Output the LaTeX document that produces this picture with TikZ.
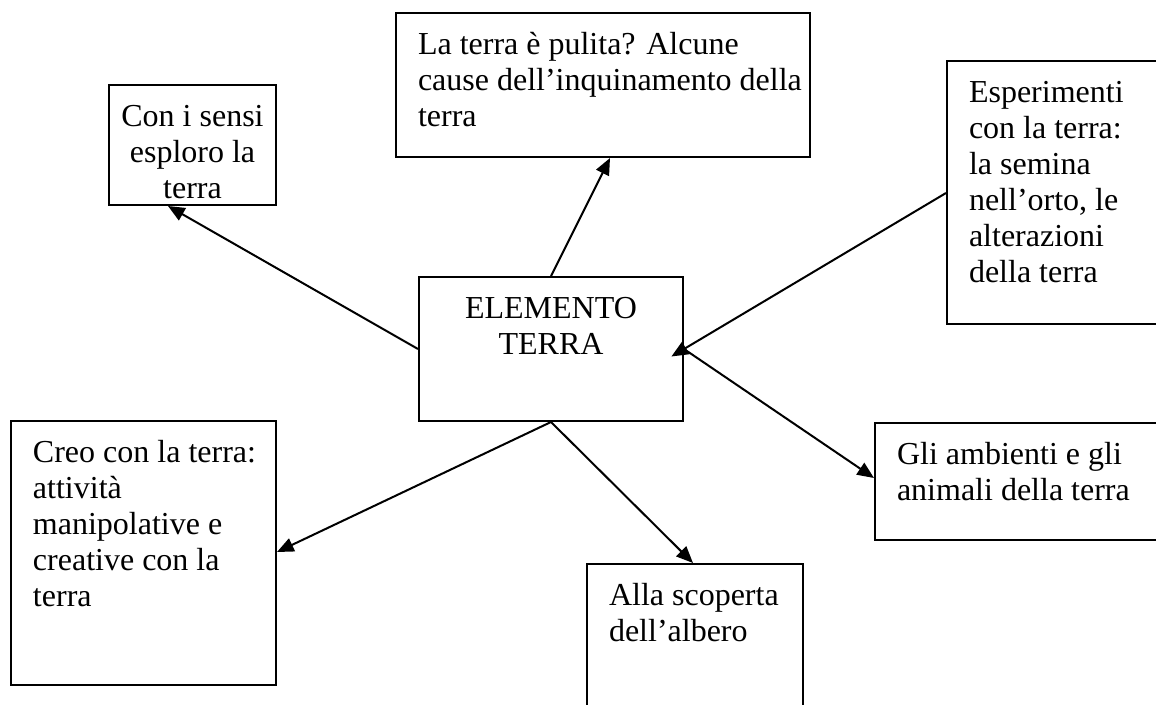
\documentclass[tikz,border=0pt]{standalone}
\usepackage{fontspec}
\setmainfont{Liberation Serif}
\usepackage{tikz}
\usetikzlibrary{arrows.meta,calc}

\newlength{\px}
\setlength{\px}{0.75pt}
% box text: width, height, alignment, text
\newcommand{\boxtext}[4]{%
\begin{minipage}[t][#2\px][t]{#1\px}#3\rule{0pt}{41\px}#4\end{minipage}}
\newcommand{\lft}{\raggedright\leftskip=22\px}
\newcommand{\ctr}{\centering}

\begin{document}
\begin{tikzpicture}[x=0.75pt, y=-0.75pt,
box/.style={draw, line width=1.5pt, inner sep=0pt, anchor=north west},
arrow/.style={line width=1.5pt, -{Triangle[length=12.5pt,width=10.5pt]}}]
\tikzstyle{every node}=[font=\fontsize{24pt}{27pt}\selectfont]
\useasboundingbox (0,0) rectangle (1156,704);
\node[box] (centro) at (418,276) {\boxtext{264}{144}{\ctr}{ELEMENTO\\TERRA}};
\node[box] (sensi) at (108,84) {\boxtext{167}{120}{\ctr}{Con i sensi\\esploro la\\terra}};
\node[box] (pulita) at (395,12) {\boxtext{414}{144}{\lft}{La terra è pulita? Alcune\\cause dell’inquinamento della\\terra}};
\node[box] (esperimenti) at (946,60) {\boxtext{224}{263}{\lft}{Esperimenti\\con la terra:\\la semina\\nell’orto, le\\alterazioni\\della terra}};
\node[box] (ambienti) at (874,422) {\boxtext{296}{117}{\lft}{Gli ambienti e gli\\animali della terra}};
\node[box] (albero) at (586,563) {\boxtext{216}{157}{\lft}{Alla scoperta\\dell’albero}};
\node[box] (creo) at (10,420) {\boxtext{265}{264}{\lft}{Creo con la terra:\\attività\\manipolative e\\creative con la\\terra}};
\draw[arrow] (centro.west) -- ($(sensi.south west)+(60,0)$);
\draw[arrow] (centro.north) -- ($(pulita.south west)+(215,0)$);
\draw[arrow, {Triangle[length=12.5pt,width=10.5pt]}-, shorten <=-11pt] (centro.east) -- ($(esperimenti.north west)+(0,133)$);
\draw[arrow] (centro.east) -- ($(ambienti.north west)+(0,56)$);
\draw[arrow] (centro.south) -- ($(creo.north east)+(0,132)$);
\draw[arrow] (centro.south) -- ($(albero.north west)+(107,0)$);
\end{tikzpicture}
\end{document}
